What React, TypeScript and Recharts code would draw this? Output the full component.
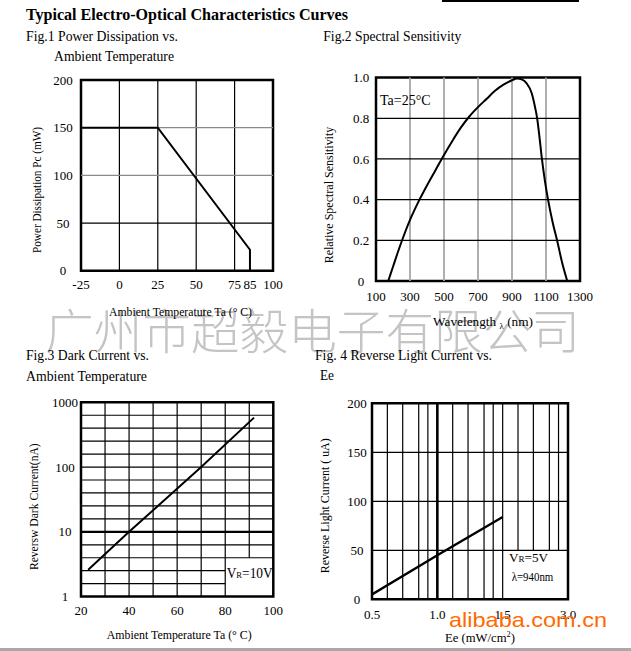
import React from 'react';
import { LineChart, Line, XAxis, YAxis, ReferenceLine, ReferenceArea } from 'recharts';

// ---------- Fig.1 Power Dissipation vs. Ambient Temperature ----------
const fig1Temp = [-25, 25, 85, 85];
const fig1Power = [150, 150, 22, 0];
const fig1XTicks = [-25, 0, 25, 50, 75, 85, 100];
const fig1YTicks = [0, 50, 100, 150, 200];
const fig1VGrid = [0, 25, 50, 75];
const fig1HGridGray = [100, 150];
const fig1HGridBlack = [50];

// ---------- Fig.2 Spectral Sensitivity ----------
const fig2Wavelength = [172, 200, 230, 260, 300, 350, 400, 450, 500, 550, 600, 650, 700, 750, 800, 850, 900, 930, 960, 986, 1016, 1035, 1048, 1060, 1076, 1094, 1112, 1140, 1165, 1195, 1225];
const fig2Sensitivity = [0, 0.07, 0.145, 0.215, 0.3, 0.39, 0.47, 0.545, 0.62, 0.69, 0.755, 0.81, 0.855, 0.895, 0.935, 0.965, 0.987, 0.995, 0.99, 0.972, 0.923, 0.857, 0.8, 0.72, 0.6, 0.49, 0.4, 0.285, 0.2, 0.09, 0];
const fig2XTicks = [100, 300, 500, 700, 900, 1100, 1300];
const fig2YTicks = [0, 0.2, 0.4, 0.6, 0.8, 1.0];
const fig2VGrid = [300, 500, 700, 900, 1100];
const fig2HGrid = [0.2, 0.4, 0.6, 0.8];

// ---------- Fig.3 Dark Current vs. Ambient Temperature ----------
const fig3Temp = [23, 40, 70, 92];
const fig3Dark = [2.6, 10, 100, 580];
const fig3XTicks = [20, 40, 60, 80, 100];
const fig3YTicks = [1, 10, 100, 1000];
const fig3VGrid = [30, 40, 50, 60, 70, 80];
const fig3VGridShort = [90];
const fig3Decades = [1, 10, 100];
const fig3DecadeSteps = [0.2, 0.4, 0.6, 0.8];

// ---------- Fig.4 Reverse Light Current vs. Ee ----------
const fig4Ee = [0.5, 1.0, 1.5];
const fig4Current = [5, 45, 84];
const fig4XTicks = [0.5, 1.0, 1.5, 3.0];
const fig4XTickLabels = ['0.5', '1.0', '1.5', '3.0'];
const fig4YTicks = [0, 50, 100, 150, 200];
const fig4MinorFractions = [0.235, 0.47, 0.715, 0.855];
const fig4HGrid = [50, 100, 150];

const W = 631;
const H = 651;
const serif = '"Liberation Serif", "Times New Roman", serif';

// Fig.4 x axis is drawn with equal spacing between its labelled values
const eeToAxis = (v: number) => {
  for (let i = 0; i < fig4XTicks.length - 1; i++) {
    const a = fig4XTicks[i];
    const b = fig4XTicks[i + 1];
    if (v >= a && v <= b) return i + (v - a) / (b - a);
  }
  return fig4XTicks.length - 1;
};

const fig1Data = fig1Temp.map((t, i) => ({ t, p: fig1Power[i] }));
const fig2Data = fig2Wavelength.map((w, i) => ({ w, s: fig2Sensitivity[i] }));
const fig3Data = fig3Temp.map((t, i) => ({ t, d: fig3Dark[i] }));
const fig4Data = fig4Ee.map((e, i) => ({ e: eeToAxis(e), c: fig4Current[i] }));

const yTick = (fmt?: (v: number) => string) => (p: any) => (
  <text x={p.x} y={p.y} dy="0.35em" textAnchor="middle" fontFamily={serif} fontSize={13} fill="#000">
    {fmt ? fmt(p.payload.value) : String(p.payload.value)}
  </text>
);
const xTick = (off: number, fmt?: (v: number) => string) => (p: any) => (
  <text x={p.x} y={p.y + off} textAnchor="middle" fontFamily={serif} fontSize={13} fill="#000">
    {fmt ? fmt(p.payload.value) : String(p.payload.value)}
  </text>
);

function T(props: any) {
  const { x, y, size = 14, len, weight, anchor, rotate, children, family = serif, fill = '#000' } = props;
  return (
    <text
      x={x}
      y={y}
      fontSize={size}
      fontFamily={family}
      fontWeight={weight}
      textAnchor={anchor}
      fill={fill}
      textLength={len}
      lengthAdjust={len ? 'spacingAndGlyphs' : undefined}
      transform={rotate ? `rotate(${rotate} ${x} ${y})` : undefined}
    >
      {children}
    </text>
  );
}

const layer: React.CSSProperties = { position: 'absolute', left: 0, top: 0 };

export default function App() {
  return (
    <div style={{ position: 'absolute', left: 0, top: 0, width: W, height: H, background: '#fff', overflow: 'hidden' }}>
      {/* Fig 1 */}
      <div style={layer}>
        <LineChart width={W} height={H} data={fig1Data} margin={{ left: 41, right: 358, top: 80, bottom: 350.3 }}>
          <XAxis dataKey="t" type="number" domain={[-25, 100]} ticks={fig1XTicks} height={30} axisLine={false} tickLine={false} tickSize={0} tickMargin={0} tick={xTick(18.6)} interval={0} allowDataOverflow />
          <YAxis dataKey="p" type="number" domain={[0, 200]} ticks={fig1YTicks} width={40} axisLine={false} tickLine={false} tickSize={0} tickMargin={18} tick={yTick()} interval={0} allowDataOverflow />
          {fig1VGrid.map((v) => (
            <ReferenceLine key={'v' + v} x={v} stroke="#000" strokeWidth={1.2} />
          ))}
          {fig1HGridGray.map((v) => (
            <ReferenceLine key={'hg' + v} y={v} stroke="#8a8a8a" strokeWidth={1.2} />
          ))}
          {fig1HGridBlack.map((v) => (
            <ReferenceLine key={'hb' + v} y={v} stroke="#000" strokeWidth={1.2} />
          ))}
          <ReferenceArea x1={-25} x2={100} y1={0} y2={200} fill="none" stroke="#000" strokeWidth={2.5} fillOpacity={0} />
          <Line dataKey="p" type="linear" stroke="#000" strokeWidth={2} dot={false} isAnimationActive={false} />
        </LineChart>
      </div>

      {/* Fig 2 */}
      <div style={layer}>
        <LineChart width={W} height={H} data={fig2Data} margin={{ left: 336, right: 51, top: 77.6, bottom: 340 }}>
          <XAxis dataKey="w" type="number" domain={[100, 1300]} ticks={fig2XTicks} height={30} axisLine={false} tickLine={false} tickSize={0} tickMargin={0} tick={xTick(19.7)} interval={0} allowDataOverflow />
          <YAxis dataKey="s" type="number" domain={[0, 1]} ticks={fig2YTicks} width={40} axisLine={false} tickLine={false} tickSize={0} tickMargin={15} tick={yTick((v) => (v === 0 ? '0' : v.toFixed(1)))} interval={0} allowDataOverflow />
          {fig2VGrid.map((v) => (
            <ReferenceLine key={'v' + v} x={v} stroke="#a6a6a6" strokeWidth={1.8} />
          ))}
          {fig2HGrid.map((v) => (
            <ReferenceLine key={'h' + v} y={v} stroke="#000" strokeWidth={1.2} />
          ))}
          <ReferenceArea x1={100} x2={1300} y1={0} y2={1} fill="none" stroke="#000" strokeWidth={2.5} fillOpacity={0} />
          <Line dataKey="s" type="monotone" stroke="#000" strokeWidth={2} dot={false} isAnimationActive={false} />
        </LineChart>
      </div>

      {/* Fig 3 */}
      <div style={layer}>
        <LineChart width={W} height={H} data={fig3Data} margin={{ left: 41, right: 357.7, top: 402.3, bottom: 24.4 }}>
          <XAxis dataKey="t" type="number" domain={[20, 100]} ticks={fig3XTicks} height={30} axisLine={false} tickLine={false} tickSize={0} tickMargin={0} tick={xTick(18.4)} interval={0} allowDataOverflow />
          <YAxis dataKey="d" type="number" scale="log" domain={[1, 1000]} ticks={fig3YTicks} width={40} axisLine={false} tickLine={false} tickSize={0} tickMargin={16} tick={yTick()} interval={0} allowDataOverflow />
          {fig3VGrid.map((v) => (
            <ReferenceLine key={'v' + v} x={v} stroke="#000" strokeWidth={1.2} />
          ))}
          {fig3VGridShort.map((v) => (
            <ReferenceLine key={'vs' + v} segment={[{ x: v, y: Math.pow(10, 0.6) }, { x: v, y: 1000 }]} stroke="#000" strokeWidth={1.2} />
          ))}
          {fig3Decades.map((d) =>
            fig3DecadeSteps.map((s) => {
              const v = d * Math.pow(10, s);
              if (d === 1 && s < 0.5) {
                return <ReferenceLine key={'hs' + v} segment={[{ x: 20, y: v }, { x: 80, y: v }]} stroke="#000" strokeWidth={1.2} />;
              }
              return <ReferenceLine key={'h' + v} y={v} stroke="#000" strokeWidth={1.2} />;
            })
          )}
          <ReferenceLine y={10} stroke="#000" strokeWidth={2.4} />
          <ReferenceLine y={100} stroke="#000" strokeWidth={1.2} />
          <ReferenceArea x1={20} x2={100} y1={1} y2={1000} fill="none" stroke="#000" strokeWidth={2.5} fillOpacity={0} />
          <Line dataKey="d" type="linear" stroke="#000" strokeWidth={2} dot={false} isAnimationActive={false} />
        </LineChart>
      </div>

      {/* Fig 4 */}
      <div style={layer}>
        <LineChart width={W} height={H} data={fig4Data} margin={{ left: 332, right: 63, top: 403.3, bottom: 21.7 }}>
          <XAxis dataKey="e" type="number" domain={[0, 3]} ticks={[0, 1, 2, 3]} height={30} axisLine={false} tickLine={false} tickSize={0} tickMargin={0} tick={xTick(19.4, (v) => fig4XTickLabels[Math.round(v)])} interval={0} allowDataOverflow />
          <YAxis dataKey="c" type="number" domain={[0, 200]} ticks={fig4YTicks} width={40} axisLine={false} tickLine={false} tickSize={0} tickMargin={15} tick={yTick()} interval={0} allowDataOverflow />
          {[0, 1, 2].map((i) =>
            fig4MinorFractions.map((f) =>
              i === 2 ? (
                <ReferenceLine key={'m' + i + f} segment={[{ x: i + f, y: 50 }, { x: i + f, y: 200 }]} stroke="#000" strokeWidth={1.2} />
              ) : (
                <ReferenceLine key={'m' + i + f} x={i + f} stroke="#000" strokeWidth={1.2} />
              )
            )
          )}
          <ReferenceLine x={1} stroke="#000" strokeWidth={2.6} />
          <ReferenceLine x={2} stroke="#000" strokeWidth={1.2} />
          {fig4HGrid.map((v) => (
            <ReferenceLine key={'h' + v} y={v} stroke="#000" strokeWidth={1.2} />
          ))}
          <ReferenceArea x1={0} x2={3} y1={0} y2={200} fill="none" stroke="#000" strokeWidth={2.5} fillOpacity={0} />
          <Line dataKey="c" type="linear" stroke="#000" strokeWidth={2.4} dot={false} isAnimationActive={false} />
        </LineChart>
      </div>

      {/* Text overlay */}
      <svg width={W} height={H} style={{ ...layer, pointerEvents: 'none' }}>
        <rect x={442} y={0} width={137} height={2} fill="#000" />
        <rect x={0} y={648} width={W} height={3} fill="#a8a8a8" />

        <T x={45} y={349} size={48} len={535} family='"Noto Sans CJK SC", sans-serif' weight={200} fill="#c4c4c4">广州市超毅电子有限公司</T>

        <T x={26} y={20} size={16} weight="bold" len={322}>Typical Electro-Optical Characteristics Curves</T>
        <T x={26} y={41} len={152}>Fig.1 Power Dissipation vs.</T>
        <T x={54} y={61} len={120}>Ambient Temperature</T>
        <T x={323.3} y={40.7} len={138}>Fig.2 Spectral Sensitivity</T>
        <T x={26} y={360} len={123}>Fig.3 Dark Current vs.</T>
        <T x={26} y={380.7} len={121}>Ambient Temperature</T>
        <T x={315} y={360} len={177}>Fig. 4 Reverse Light Current vs.</T>
        <T x={320} y={380} len={14}>Ee</T>

        <T x={109} y={316} size={13.5} len={143}>Ambient Temperature Ta (° C)</T>
        <T x={433} y={326} size={13.5} len={100}>
          Wavelength <tspan fontSize={9} dy={3}>λ</tspan><tspan dy={-3}> (nm)</tspan>
        </T>
        <T x={106.7} y={639} size={13.5} len={145}>Ambient Temperature Ta (° C)</T>
        <T x={445} y={642} size={13.5} len={70}>
          Ee (mW/cm<tspan fontSize={9} dy={-5}>2</tspan><tspan dy={5}>)</tspan>
        </T>

        <T x={41} y={190} size={13.5} len={126} anchor="middle" rotate={-90}>Power Dissipation Pc (mW)</T>
        <T x={332.8} y={195} size={13.5} len={136.6} anchor="middle" rotate={-90}>Relative Spectral Sensitivity</T>
        <T x={37.8} y={506.7} size={13.5} len={126.7} anchor="middle" rotate={-90}>Reversw Dark Current(nA)</T>
        <T x={329.5} y={505.8} size={13.5} len={135} anchor="middle" rotate={-90}>Reverse Light Current ( uA)</T>

        <T x={380} y={105} size={15} len={50.7}>Ta=25°C</T>
        <T x={226.7} y={578} size={14} len={46}>
          V<tspan fontSize={9}>R</tspan>=10V
        </T>
        <T x={509} y={561.5} size={13} len={39}>
          V<tspan fontSize={9}>R</tspan>=5V
        </T>
        <T x={511.7} y={581} size={13} len={41.6}>λ=940nm</T>

        <T x={449} y={627} size={21} len={158} family='"Liberation Sans", Arial, sans-serif' fill="#ff6a00">alibaba.com.cn</T>
      </svg>
    </div>
  );
}
